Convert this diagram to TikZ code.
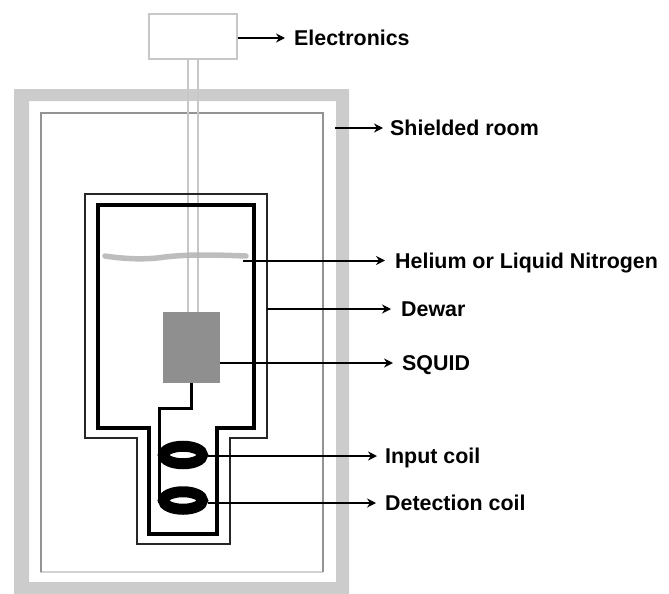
\documentclass[tikz,border=0pt]{standalone}
\usepackage{fontspec}
\setmainfont{Liberation Sans}
\usetikzlibrary{arrows.meta,shapes.geometric}
\definecolor{frameg}{gray}{0.80}
\definecolor{squidg}{gray}{0.56}
\definecolor{lightl}{gray}{0.78}
\definecolor{midl}{gray}{0.15}
\tikzset{
  x=1pt,y=-1pt,
  lbl/.style={font=\bfseries\fontsize{21.4}{23}\selectfont,anchor=west,inner sep=0pt,text=black,text height=15pt,text depth=0pt},
  lead/.style={draw=black,line width=2pt,-{Stealth[length=9pt,width=9pt]}},
  tube/.style={draw=lightl,line width=1.2pt},
  roomline/.style={draw=gray!85,line width=1.8pt},
  dewout/.style={draw=midl,line width=2.2pt},
  dewin/.style={draw=black,line width=4pt},
  wire/.style={draw=black,line width=3pt},
  coilring/.style={draw=black,line width=11pt,ellipse,minimum width=39pt,minimum height=17.5pt,inner sep=0pt},
}
\begin{document}
\begin{tikzpicture}
\useasboundingbox (0,0) rectangle (669,594);
% shielded room
\fill[frameg,even odd rule] (14,89) rectangle (349,594) (29,101) rectangle (336,582);
\draw[draw=gray!35,line width=1.4pt] (40,572) -- (323,572);
\draw[roomline,line join=miter] (41,572) -- (41,113) -- (323,113) -- (323,572);
% tube
\draw[tube] (188,59) -- (188,312);
\draw[tube] (198,59) -- (198,312);
\node[draw=lightl,line width=1.3pt,fill=white,minimum width=88pt,minimum height=45pt,inner sep=0pt] (elec) at (193,36.5) {};
% dewar
\draw[dewout] (85,194) -- (267,194) -- (267,438) -- (230,438) -- (230,544) -- (137,544) -- (137,438) -- (85,438) -- cycle;
\draw[dewin] (98,205) -- (254,205) -- (254,428) -- (217,428) -- (217,534) -- (149,534) -- (149,428) -- (98,428) -- cycle;
% liquid level
\draw[gray!60,line width=5.5pt,line cap=round,opacity=.85] (105,256) .. controls (125,259) and (145,260) .. (165,257) .. controls (190,254) and (220,255) .. (246,256);
% SQUID
\node[fill=squidg,minimum width=57pt,minimum height=71pt,inner sep=0pt] (squid) at (191.5,347.5) {};
% coils
\node[coilring] (incoil) at (183,455) {};
\node[coilring] (detcoil) at (183,500.5) {};
\draw[wire] (squid.south) -- (191.5,408) -- (159,408) -- (159,503);
% labels
\node[lbl] (lelec) at (294,38) {Electronics};
\node[lbl] (lroom) at (390,128) {Shielded room};
\node[lbl] (lhel) at (395,260.5) {Helium or Liquid Nitrogen};
\node[lbl] (ldew) at (401,309) {Dewar};
\node[lbl] (lsq) at (402,363) {SQUID};
\node[lbl] (lin) at (385,456) {Input coil};
\node[lbl] (ldet) at (385,503) {Detection coil};
% free ends
\coordinate (froom) at (335,128);
\coordinate (flevel) at (243,260.5);
\coordinate (fdew) at (267,309);
% leaders
\draw[lead] (elec.east |- lelec.west) -- ([xshift=-9pt]lelec.west);
\draw[lead] (froom) -- ([xshift=-7pt]lroom.west);
\draw[lead] (flevel) -- ([xshift=-10pt]lhel.west);
\draw[lead] (fdew) -- ([xshift=-10pt]ldew.west);
\draw[lead] (squid.east |- lsq.west) -- ([xshift=-9pt]lsq.west);
\draw[lead] (incoil.east |- lin.west) -- ([xshift=-8pt]lin.west);
\draw[lead] (detcoil.east |- ldet.west) -- ([xshift=-9pt]ldet.west);
\end{tikzpicture}
\end{document}
